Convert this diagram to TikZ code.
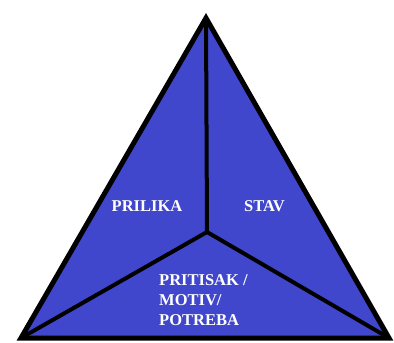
\documentclass[tikz,border=0pt]{standalone}
\usepackage{fontspec}
\setmainfont{Liberation Serif}
\usetikzlibrary{positioning}
\definecolor{royalblau}{rgb}{0.25,0.28,0.80}
\tikzset{
  rand/.style={
    draw=black,
    fill=royalblau,
    line width=5pt,
    line join=miter
  },
  teiler/.style={
    draw=black,
    line width=4pt
  },
  etikett/.style={
    text=white,
    font=\fontsize{16.5}{20}\selectfont\bfseries,
    inner sep=0pt
  }
}
\begin{document}
\begin{tikzpicture}[x=1pt,y=-1pt]
\useasboundingbox (0,0) rectangle (394,343);
\coordinate (oben) at (206,18);
\coordinate (links) at (21,338);
\coordinate (rechts) at (389,338);
\coordinate (mitte) at (207,232);
\draw[rand] (oben) -- (links) -- (rechts) -- cycle;
\draw[teiler] (mitte) -- (oben);
\draw[teiler] (mitte) -- (links);
\draw[teiler] (mitte) -- (rechts);
\node[etikett] (prilika) at (147,206) {PRILIKA};
\node[etikett] (stav) at (264.5,206) {STAV};
\node[etikett,align=left,anchor=north west] (pritisak) at (159,274) {PRITISAK /\\MOTIV/\\POTREBA};
\end{tikzpicture}
\end{document}
